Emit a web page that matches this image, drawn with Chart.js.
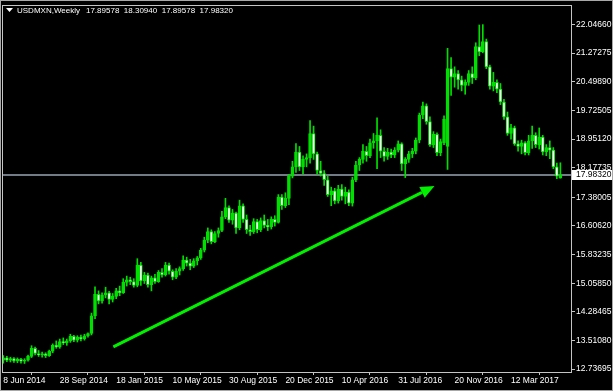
<!DOCTYPE html>
<html>
<head>
<meta charset="utf-8">
<script src="https://cdn.jsdelivr.net/npm/chart.js@4.4.1/dist/chart.umd.min.js"></script>
<style>
  html, body { margin: 0; padding: 0; background: #000; }
  canvas { display: block; }
</style>
</head>
<body>
<canvas id="chart" width="613" height="391"></canvas>
<script>
// USDMXN weekly candles, Jun 2014 .. Jun 2017 (one entry per week, index 0 = 8 Jun 2014)
const SYMBOL = "USDMXN,Weekly";

const OPEN = [
  12.98, 13.04, 12.98, 13.02, 12.96, 13.00, 12.95, 12.98, 13.08, 13.30,
  13.16, 13.12, 13.15, 13.10, 13.22, 13.38, 13.34, 13.48, 13.45, 13.50,
  13.62, 13.52, 13.60, 13.55, 13.64, 13.70, 14.18, 14.76, 14.58, 14.74,
  14.80, 14.62, 14.70, 14.85, 14.80, 15.08, 15.15, 15.10, 15.00, 15.55,
  15.12, 15.28, 15.02, 15.20, 15.10, 15.35, 15.28, 15.55, 15.38, 15.22,
  15.38, 15.45, 15.68, 15.60, 15.52, 15.66, 15.74, 15.95, 16.22, 16.45,
  16.18, 16.40, 16.48, 16.85, 17.10, 16.76, 16.95, 16.55, 17.15, 16.78,
  16.50, 16.45, 16.72, 16.50, 16.75, 16.62, 16.58, 16.78, 16.70, 17.38,
  17.15, 17.35, 17.95, 18.20, 18.60, 18.20, 18.40, 18.45, 19.10, 18.55,
  18.10, 18.02, 17.85, 17.45, 17.55, 17.28, 17.60, 17.40, 17.52, 17.22,
  17.85, 18.25, 18.40, 18.62, 18.50, 18.85, 18.90, 19.05, 18.62, 18.48,
  18.60, 18.52, 18.65, 18.82, 18.28, 18.40, 18.55, 18.62, 18.92, 19.60,
  19.85, 19.42, 18.80, 19.08, 18.58, 18.85, 18.75, 20.85, 20.62, 20.72,
  20.55, 20.40, 20.48, 20.72, 20.60, 21.45, 21.30, 21.58, 20.90, 20.38,
  20.48, 20.30, 19.95, 19.55, 19.10, 19.25, 18.82, 18.75, 18.85, 18.58,
  18.90, 19.05, 18.80, 19.00, 18.60, 18.72, 18.65, 18.20, 17.89578
];
const HIGH = [
  13.10, 13.08, 13.06, 13.05, 13.04, 13.03, 13.02, 13.12, 13.37, 13.33,
  13.24, 13.20, 13.18, 13.25, 13.42, 13.50, 13.55, 13.58, 13.55, 13.68,
  13.65, 13.64, 13.66, 13.68, 13.72, 14.25, 14.96, 14.85, 14.80, 14.95,
  14.84, 14.78, 14.92, 14.98, 15.18, 15.25, 15.22, 15.18, 15.72, 15.62,
  15.35, 15.33, 15.25, 15.30, 15.40, 15.45, 15.62, 15.60, 15.42, 15.45,
  15.50, 15.80, 15.76, 15.70, 15.72, 15.78, 16.00, 16.30, 16.55, 16.50,
  16.45, 16.55, 17.00, 17.35, 17.15, 17.05, 16.98, 17.30, 17.20, 16.90,
  16.62, 16.80, 16.78, 16.82, 16.90, 16.78, 16.85, 16.88, 17.45, 17.45,
  17.50, 18.00, 18.35, 18.83, 18.75, 18.50, 18.55, 19.45, 19.30, 18.60,
  18.35, 18.10, 17.95, 17.65, 17.62, 17.70, 17.72, 17.65, 17.58, 17.92,
  18.35, 18.45, 18.80, 18.75, 18.95, 19.10, 19.52, 19.20, 18.72, 18.70,
  18.68, 18.72, 18.90, 18.85, 18.45, 18.62, 18.70, 18.98, 19.65, 19.95,
  19.90, 19.55, 19.15, 19.12, 18.95, 19.58, 21.40, 21.15, 20.90, 20.80,
  20.65, 20.55, 20.80, 20.90, 21.55, 22.03, 22.04, 21.65, 20.95, 20.75,
  20.55, 20.45, 20.02, 19.68, 19.35, 19.30, 18.90, 18.92, 18.88, 19.05,
  19.30, 19.12, 19.25, 19.05, 18.80, 18.90, 18.72, 18.30, 18.30940
];
const LOW = [
  12.90, 12.94, 12.93, 12.92, 12.91, 12.90, 12.89, 12.95, 13.05, 13.12,
  13.08, 13.06, 13.05, 13.08, 13.18, 13.30, 13.30, 13.40, 13.38, 13.46,
  13.48, 13.47, 13.50, 13.52, 13.60, 13.66, 14.10, 14.50, 14.52, 14.66,
  14.50, 14.55, 14.64, 14.72, 14.78, 14.98, 15.02, 14.95, 14.96, 15.00,
  15.05, 14.95, 14.85, 15.05, 15.08, 15.22, 15.25, 15.30, 15.15, 15.18,
  15.28, 15.40, 15.52, 15.42, 15.48, 15.55, 15.70, 15.90, 16.15, 16.12,
  16.15, 16.30, 16.45, 16.80, 16.70, 16.65, 16.40, 16.50, 16.70, 16.40,
  16.35, 16.40, 16.42, 16.45, 16.55, 16.48, 16.52, 16.60, 16.68, 17.05,
  17.10, 17.18, 17.90, 18.05, 18.10, 18.00, 18.20, 18.30, 18.40, 18.00,
  17.95, 17.70, 17.40, 17.15, 17.20, 17.22, 17.30, 17.20, 17.15, 17.14,
  17.80, 18.10, 18.30, 18.35, 18.45, 18.70, 18.15, 18.45, 18.35, 18.40,
  18.45, 18.45, 18.60, 18.10, 17.91, 18.32, 18.45, 18.55, 18.85, 19.50,
  19.35, 18.75, 18.72, 18.50, 18.50, 18.80, 18.13, 20.13, 20.35, 20.30,
  20.25, 20.16, 20.40, 20.45, 20.55, 21.20, 21.28, 20.85, 20.30, 20.25,
  20.20, 19.88, 19.48, 19.05, 18.95, 18.78, 18.62, 18.55, 18.52, 18.52,
  18.70, 18.72, 18.68, 18.52, 18.50, 18.42, 18.15, 17.88, 17.89578
];
const CLOSE = [
  13.04, 12.98, 13.02, 12.96, 13.00, 12.95, 12.98, 13.08, 13.30, 13.16,
  13.12, 13.15, 13.10, 13.22, 13.38, 13.34, 13.48, 13.45, 13.50, 13.62,
  13.52, 13.60, 13.55, 13.64, 13.70, 14.18, 14.76, 14.58, 14.74, 14.80,
  14.62, 14.70, 14.85, 14.80, 15.08, 15.15, 15.10, 15.00, 15.55, 15.12,
  15.28, 15.02, 15.20, 15.10, 15.35, 15.28, 15.55, 15.38, 15.22, 15.38,
  15.45, 15.68, 15.60, 15.52, 15.66, 15.74, 15.95, 16.22, 16.45, 16.18,
  16.40, 16.48, 16.85, 17.10, 16.76, 16.95, 16.55, 17.15, 16.78, 16.50,
  16.45, 16.72, 16.50, 16.75, 16.62, 16.58, 16.78, 16.70, 17.38, 17.15,
  17.35, 17.95, 18.20, 18.60, 18.20, 18.40, 18.45, 19.10, 18.55, 18.10,
  18.02, 17.85, 17.45, 17.55, 17.28, 17.60, 17.40, 17.52, 17.22, 17.85,
  18.25, 18.40, 18.62, 18.50, 18.85, 18.90, 19.05, 18.62, 18.48, 18.60,
  18.52, 18.65, 18.82, 18.28, 18.40, 18.55, 18.62, 18.92, 19.60, 19.85,
  19.42, 18.80, 19.08, 18.58, 18.88, 19.48, 20.85, 20.62, 20.72, 20.55,
  20.40, 20.48, 20.72, 20.60, 21.45, 21.30, 21.58, 20.90, 20.38, 20.48,
  20.30, 19.95, 19.55, 19.10, 19.25, 18.82, 18.75, 18.85, 18.58, 18.90,
  19.05, 18.80, 19.00, 18.60, 18.72, 18.65, 18.20, 17.95, 17.98320
];

// price scale labels as MT4 printed them
const Y_TICKS = [22.04660, 21.27275, 20.49890, 19.72505, 18.95120, 18.17735,
                 17.38005, 16.60620, 15.83235, 15.05850, 14.28465, 13.51080, 12.73695];

// time scale: week index of each label, and the label text
const X_TICK_WEEKS  = [0, 16, 32, 48, 64, 80, 96, 112, 128, 144];
const X_TICK_LABELS = ["8 Jun 2014", "28 Sep 2014", "18 Jan 2015", "10 May 2015", "30 Aug 2015",
                       "20 Dec 2015", "10 Apr 2016", "31 Jul 2016", "20 Nov 2016", "12 Mar 2017"];

// hand-drawn trend arrow, in (week index, price)
const ARROW_FROM = [31.2, 13.34];
const ARROW_TO   = [122.3, 17.68];

// ---------- Build datasets ----------

const GREEN = "#00e000";
const last = CLOSE.length - 1;
const isUp = CLOSE.map((c, i) => c >= OPEN[i]);

const bodies = OPEN.map((o, i) => ({ x: i, y: [o, CLOSE[i]] }));
const wicks  = LOW.map((l, i) => ({ x: i, y: [l, HIGH[i]] }));

const FONT = { family: "'Liberation Sans', Arial, sans-serif", size: 8.5 };

// ---------- Decorations (frame, title, bid line, arrow) ----------

const decorations = {
  id: "decorations",
  beforeDraw(chart) {
    const { ctx, width, height } = chart;
    ctx.save();
    ctx.fillStyle = "#000";
    ctx.fillRect(0, 0, width, height);
    ctx.restore();
  },
  beforeDatasetsDraw(chart) {
    // bid line under the candles
    const { ctx, chartArea: a, scales: { y } } = chart;
    const py = Math.round(y.getPixelForValue(CLOSE[last]));
    ctx.save();
    ctx.strokeStyle = "#737b87";
    ctx.lineWidth = 2;
    ctx.beginPath();
    ctx.moveTo(a.left, py);
    ctx.lineTo(a.right, py);
    ctx.stroke();
    ctx.restore();
  },
  afterDatasetsDraw(chart) {
    const { ctx, scales: { x, y } } = chart;
    const x0 = x.getPixelForValue(ARROW_FROM[0]), y0 = y.getPixelForValue(ARROW_FROM[1]);
    const x1 = x.getPixelForValue(ARROW_TO[0]),   y1 = y.getPixelForValue(ARROW_TO[1]);
    const ang = Math.atan2(y1 - y0, x1 - x0);
    const head = 14, half = 6;
    const bx = x1 - head * Math.cos(ang), by = y1 - head * Math.sin(ang);
    ctx.save();
    ctx.strokeStyle = "#00f000";
    ctx.fillStyle = "#00f000";
    ctx.lineWidth = 3;
    ctx.beginPath();
    ctx.moveTo(x0, y0);
    ctx.lineTo(bx, by);
    ctx.stroke();
    ctx.beginPath();
    ctx.moveTo(x1, y1);
    ctx.lineTo(bx + half * Math.sin(ang), by - half * Math.cos(ang));
    ctx.lineTo(bx - half * Math.sin(ang), by + half * Math.cos(ang));
    ctx.closePath();
    ctx.fill();
    ctx.restore();
  },
  afterDraw(chart) {
    const { ctx, width, height, chartArea: a, scales: { y } } = chart;
    ctx.save();

    // window frame + plot border
    ctx.strokeStyle = "#a8a8a8";
    ctx.lineWidth = 1;
    ctx.strokeRect(0.5, 0.5, width - 1, height - 1);
    ctx.strokeStyle = "#c4c4c4";
    ctx.strokeRect(Math.round(a.left) - 0.5, Math.round(a.top) - 0.5,
                   Math.round(a.right - a.left), Math.round(a.bottom - a.top) + 1);

    // current price label on the scale
    const py = Math.round(y.getPixelForValue(CLOSE[last]));
    ctx.fillStyle = "#ffffff";
    ctx.fillRect(a.right, py - 5, width - a.right - 1, 10);
    ctx.fillStyle = "#000";
    ctx.font = `${FONT.size}px ${FONT.family}`;
    ctx.textBaseline = "middle";
    ctx.textAlign = "left";
    ctx.fillText(CLOSE[last].toFixed(5), a.right + 4, py);

    // title: symbol + last bar OHLC
    ctx.fillStyle = "#ffffff";
    ctx.beginPath();
    ctx.moveTo(6, 8); ctx.lineTo(13, 8); ctx.lineTo(9.5, 12);
    ctx.closePath();
    ctx.fill();
    ctx.font = `8px ${FONT.family}`;
    let tx = 17;
    ctx.fillText(SYMBOL, tx, 10.5);
    tx += ctx.measureText(SYMBOL).width + 6;
    [OPEN[last], HIGH[last], LOW[last], CLOSE[last]].forEach(v => {
      const s = v.toFixed(5);
      ctx.fillText(s, tx, 10.5);
      tx += ctx.measureText(s).width + 4.5;
    });
    ctx.restore();
  },
};

// ---------- Chart ----------

new Chart(document.getElementById("chart"), {
  type: "bar",
  data: {
    datasets: [
      {
        label: "body",
        data: bodies,
        grouped: false,
        barThickness: 3,
        minBarLength: 1,
        backgroundColor: isUp.map(u => (u ? GREEN : "#ffffff")),
        borderColor: GREEN,
        borderWidth: 1,
        borderSkipped: false,
      },
      {
        label: "wick",
        data: wicks,
        grouped: false,
        barThickness: 1,
        backgroundColor: GREEN,
        borderWidth: 0,
      },
    ],
  },
  options: {
    responsive: false,
    devicePixelRatio: 1,
    animation: false,
    events: [],
    layout: { padding: { left: 3, top: 3, right: 0, bottom: 0 } },
    plugins: { legend: { display: false }, tooltip: { enabled: false } },
    scales: {
      x: {
        type: "linear",
        position: "bottom",
        offset: false,
        min: -0.1,
        max: 161.3,
        afterFit: s => { s.height = 19; },
        afterBuildTicks: s => { s.ticks = X_TICK_WEEKS.map(v => ({ value: v })); },
        grid: { drawOnChartArea: false, drawTicks: true, tickLength: 3, color: "#c4c4c4" },
        border: { display: false },
        ticks: {
          color: "#ffffff",
          font: FONT,
          align: "start",
          padding: 1,
          autoSkip: false,
          maxRotation: 0,
          callback: (v, i) => X_TICK_LABELS[i],
        },
      },
      y: {
        type: "linear",
        position: "right",
        min: 12.66,
        max: 22.54,
        afterFit: s => { s.width = 41; },
        afterBuildTicks: s => { s.ticks = Y_TICKS.map(v => ({ value: v })); },
        grid: { drawOnChartArea: false, drawTicks: true, tickLength: 3, color: "#c4c4c4" },
        border: { display: false },
        ticks: {
          color: "#ffffff",
          font: FONT,
          padding: 1,
          autoSkip: false,
          callback: v => v.toFixed(5),
        },
      },
    },
  },
  plugins: [decorations],
});
</script>
</body>
</html>
